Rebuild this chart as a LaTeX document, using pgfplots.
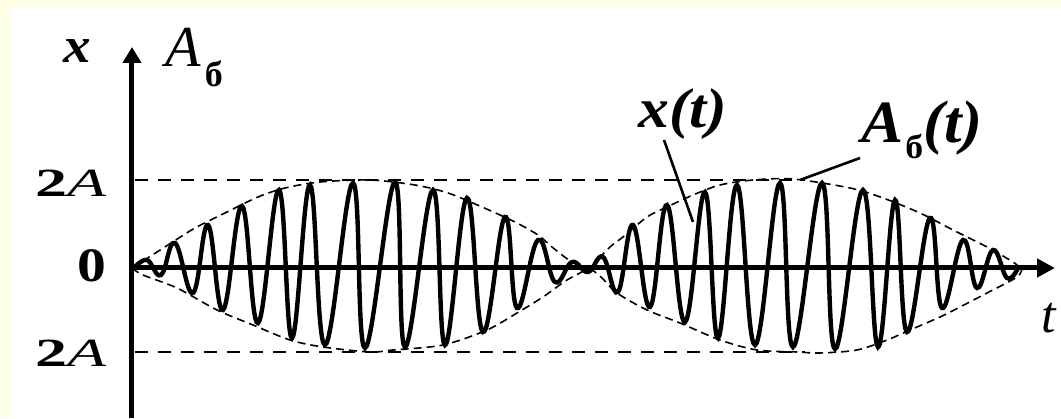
\documentclass[border=0pt]{standalone}
\usepackage{pgfplots}
\pgfplotsset{compat=1.18}
\usepackage{fontspec}
\setmainfont{Liberation Serif}
\usetikzlibrary{arrows.meta}
\definecolor{paper}{RGB}{255,255,230}

\begin{document}
\begin{tikzpicture}
\begin{axis}[
  x=0.5pt, y=0.5pt,
  xmin=0, xmax=923, ymin=-150, ymax=221,
  axis lines=middle, axis on top,
  enlargelimits=false, clip=false,
  xtick=\empty, ytick=\empty,
  axis line style={line width=2.5pt, black},
  x axis line style={-{Triangle[length=9pt,width=9pt]}},
  y axis line style={-{Triangle[length=8pt,width=9pt]}},
]
% page background and panel
\fill[paper] (axis cs:-132,-150) rectangle (axis cs:929,268);
\fill[white] (axis cs:-122,-150) rectangle (axis cs:929,260);
\coordinate (bl) at (axis cs:-132,-150);
\coordinate (tr) at (axis cs:929,268);

% levels +2A and -2A
\addplot[black, line width=1.2pt, dash pattern=on 6.5pt off 5pt] coordinates {(3,88) (673,88)};
\addplot[black, line width=1.2pt, dash pattern=on 6.5pt off 5pt] coordinates {(3,-84) (673,-84)};

% beat envelope A_b(t)
\addplot[black, line width=0.8pt, dash pattern=on 4pt off 2.5pt, smooth] coordinates {
  (0,0) (36,23) (63,40) (93,55) (126,71) (153,80) (188,86) (238,88) (283,83)
  (316,75) (350,61) (383,46) (406,33) (420,21) (440,6) (458,0)};
\addplot[black, line width=0.8pt, dash pattern=on 4pt off 2.5pt, smooth] coordinates {
  (0,0) (11,-7) (45,-20) (85,-42) (121,-57) (158,-72) (191,-79) (238,-84)
  (261,-82) (311,-77) (355,-62) (385,-45) (411,-29) (435,-12) (458,0)};
\addplot[black, line width=0.8pt, dash pattern=on 4pt off 2.5pt, smooth] coordinates {
  (458,0) (478,21) (491,31) (515,51) (535,61) (561,73) (588,83) (621,88)
  (661,89) (718,80) (751,70) (788,55) (821,38) (855,21) (881,6) (888,0)};
\addplot[black, line width=0.8pt, dash pattern=on 4pt off 2.5pt, smooth] coordinates {
  (458,0) (470,-10) (485,-25) (515,-42) (548,-55) (588,-72) (625,-82) (665,-84)
  (688,-85) (725,-82) (755,-72) (778,-62) (808,-49) (828,-39) (855,-25)
  (885,-9) (890,0)};

% oscillation x(t): extremes of each swing
\addplot[black, line width=2.2pt, smooth, tension=0.7] coordinates {
  (2,0) (15,8) (29,-7) (43,25) (61,-25) (76,43) (91,-42) (110,62) (126,-55)
  (147,78) (160,-70) (178,83) (193,-77) (221,85) (233,-80) (263,86) (273,-79)
  (301,78) (313,-77) (335,70) (351,-64) (373,51) (385,-40) (406,28) (423,-14)
  (440,6) (456,-4) (471,11) (486,-24) (501,43) (518,-39) (535,63) (553,-54)
  (573,76) (586,-70) (605,83) (623,-77) (648,85) (661,-79) (690,85) (703,-81)
  (731,78) (746,-79) (763,68) (775,-64) (798,50) (810,-40) (831,28) (845,-20)
  (861,18) (875,-10) (886,0)};

% leaders
\draw[black, line width=1.3pt] (axis cs:532,128) -- (axis cs:561,46);
\draw[black, line width=1.3pt] (axis cs:668,88) -- (axis cs:728,110);

% labels
\node[font=\fontsize{25}{30}\selectfont\bfseries\itshape, xscale=1.1] at (axis cs:-55,217) {x};
\node[anchor=base west, inner sep=0pt] at (axis cs:33,201)
  {\fontsize{29}{34}\selectfont\itshape A\kern2pt\raisebox{-10pt}{\fontsize{18}{20}\selectfont\upshape\bfseries б}};
\node[anchor=base east, inner sep=0pt, xscale=1.6, font=\fontsize{20}{24}\selectfont]
  at (axis cs:-25,71) {\textbf{2}\textit{A}};
\node[anchor=base east, inner sep=0pt, xscale=1.2, font=\fontsize{24}{28}\selectfont\bfseries]
  at (axis cs:-25,-14) {0};
\node[anchor=base east, inner sep=0pt, xscale=1.6, font=\fontsize{20}{24}\selectfont]
  at (axis cs:-25,-99) {\textbf{2}\textit{A}};
\node[font=\fontsize{28}{32}\selectfont\bfseries\itshape, xscale=1.1] at (axis cs:551,154) {x(t)};
\node[font=\fontsize{30}{34}\selectfont\bfseries\itshape, xscale=1.05] at (axis cs:790,138)
  {A\kern1pt\raisebox{-8pt}{\fontsize{17}{19}\selectfont\upshape б}(t)};
\node[font=\fontsize{26}{30}\selectfont\itshape] at (axis cs:917,-50) {t};
\end{axis}
\pgfresetboundingbox
\useasboundingbox (bl) rectangle (tr);
\end{tikzpicture}
\end{document}
